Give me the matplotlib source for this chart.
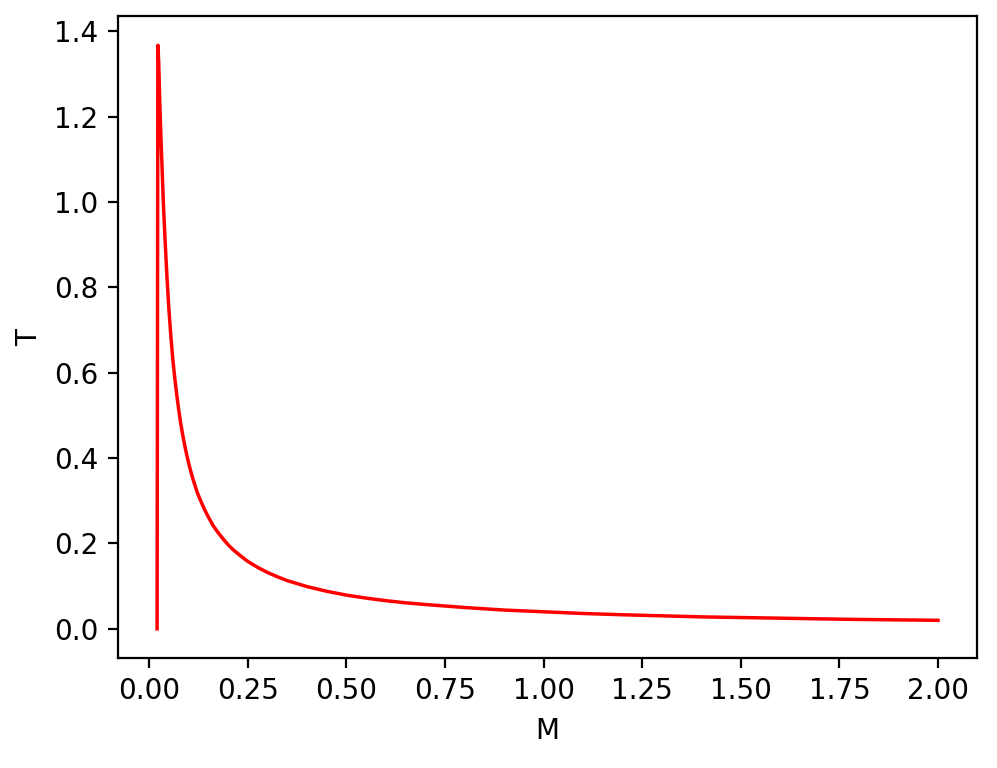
import matplotlib
matplotlib.use("Agg")
import matplotlib.pyplot as plt

M = [0.020, 0.022, 0.024, 0.026, 0.028, 0.030, 0.033, 0.036, 0.040, 0.045,
     0.050, 0.055, 0.060, 0.065, 0.070, 0.075, 0.080, 0.085, 0.090, 0.095,
     0.100, 0.108, 0.115, 0.122, 0.130, 0.140, 0.150, 0.162, 0.175, 0.188,
     0.200, 0.212, 0.225, 0.237, 0.250, 0.275, 0.30, 0.325, 0.35, 0.375,
     0.40, 0.45, 0.50, 0.55, 0.60, 0.65, 0.70, 0.80, 0.90, 1.00,
     1.10, 1.20, 1.30, 1.40, 1.50, 1.60, 1.70, 1.80, 1.90, 2.00]
T = [0.000, 1.367, 1.33, 1.26, 1.20, 1.145, 1.07, 0.995, 0.915, 0.825,
     0.748, 0.684, 0.630, 0.586, 0.547, 0.512, 0.481, 0.454, 0.430, 0.408,
     0.388, 0.360, 0.339, 0.319, 0.301, 0.280, 0.262, 0.242, 0.225, 0.210,
     0.197, 0.186, 0.176, 0.167, 0.158, 0.144, 0.132, 0.122, 0.113, 0.106,
     0.099, 0.088, 0.079, 0.072, 0.066, 0.061, 0.057, 0.050, 0.044, 0.040,
     0.036, 0.033, 0.0305, 0.028, 0.0265, 0.025, 0.0234, 0.022, 0.021, 0.020]

fig = plt.figure(figsize=(997/200, 768/200), dpi=200)
ax = fig.add_axes([0.1184, 0.1432, 0.980-0.1184, 0.979-0.1432])
ax.plot(M, T, color="red", linewidth=1.25)
ax.set_xlabel("M")
ax.set_ylabel("T")
fig.savefig("out.png", dpi=200)
